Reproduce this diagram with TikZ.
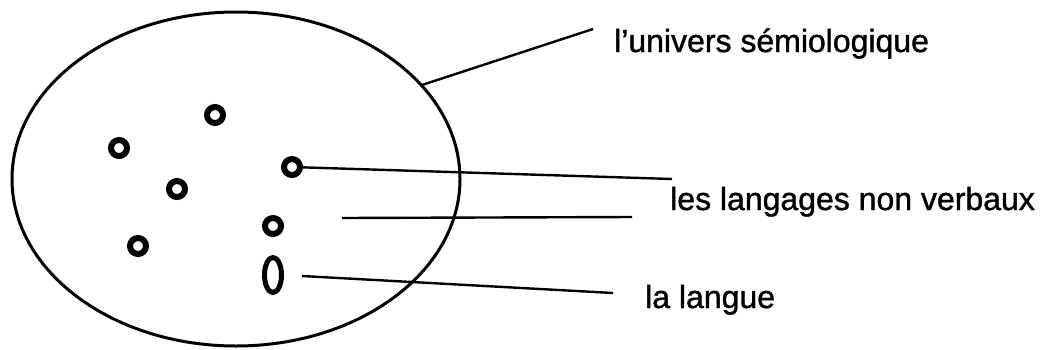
\documentclass[tikz,border=0pt]{standalone}
\usepackage{fontspec}
\setmainfont{Liberation Sans}[FakeBold=1.2]
\usetikzlibrary{shapes.geometric}

\begin{document}
\begin{tikzpicture}[x=1pt, y=-1pt, font=\fontsize{32}{38}\selectfont,
  dot/.style={circle, draw, line width=6pt, minimum size=16pt, inner sep=0pt},
  lead/.style={line width=2.4pt},
  label/.style={anchor=base west, inner sep=0pt}]
\useasboundingbox (0,0) rectangle (1043,349);
% the sign universe
\node[ellipse, draw, line width=3pt, minimum width=448pt, minimum height=334pt, inner sep=0pt] (univers) at (236,179) {};
\node[dot] (s1) at (215,115) {};
\node[dot] (s2) at (119,148) {};
\node[dot] (s3) at (177,189) {};
\node[dot] (s4) at (292,167) {};
\node[dot] (s5) at (273,226) {};
\node[dot] (s6) at (138,246) {};
\node[ellipse, draw, line width=5pt, minimum width=17pt, minimum height=35pt, inner sep=0pt] (langue) at (273,275) {};
% labels
\node[label] (tUnivers) at (614,52) {l’univers sémiologique};
\node[label] (tLangages) at (670,210) {les langages non verbaux};
\node[label] (tLangue) at (645,308) {la langue};
% leaders
\coordinate (u0) at (422,85); \coordinate (u1) at (593,29);
\coordinate (g1) at (672,179);
\coordinate (m0) at (342,218); \coordinate (m1) at (632,217);
\coordinate (l0) at (302,276); \coordinate (l1) at (613,293);
\draw[lead] (u0) -- (u1);
\draw[lead] (s4) -- (g1);
\draw[lead] (m0) -- (m1);
\draw[lead] (l0) -- (l1);
\end{tikzpicture}
\end{document}
